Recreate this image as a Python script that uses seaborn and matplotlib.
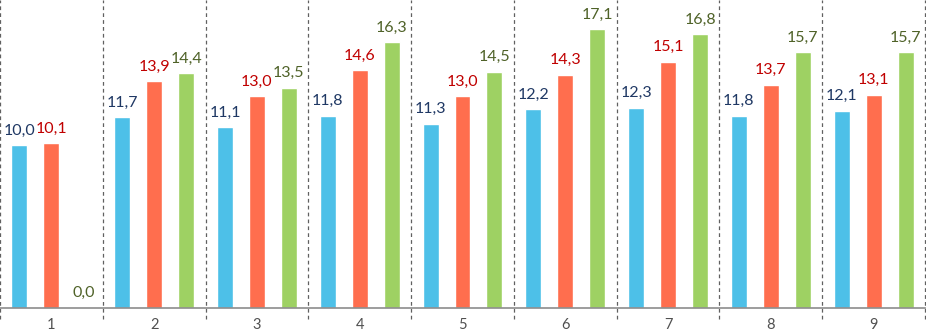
import matplotlib
matplotlib.use("Agg")
import matplotlib.pyplot as plt
import seaborn as sns
import pandas as pd
import numpy as np

categories = ["1", "2", "3", "4", "5", "6", "7", "8", "9"]
series_names = ["A", "B", "C"]
blue_vals = [10.0, 11.7, 11.1, 11.8, 11.3, 12.2, 12.3, 11.8, 12.1]
orange_vals = [10.1, 13.9, 13.0, 14.6, 13.0, 14.3, 15.1, 13.7, 13.1]
green_vals = [0.0, 14.4, 13.5, 16.3, 14.5, 17.1, 16.8, 15.7, 15.7]

bar_colors = ["#4DC0E8", "#FF6E4E", "#9ED163"]
label_colors = ["#1F3864", "#C00000", "#4F6228"]

df = pd.DataFrame({
    "cat": categories * 3,
    "series": [series_names[0]] * 9 + [series_names[1]] * 9 + [series_names[2]] * 9,
    "value": blue_vals + orange_vals + green_vals,
})

sns.set_theme(style="white")
plt.rcParams["font.family"] = ["Lato", "DejaVu Sans"]

fig = plt.figure(figsize=(9.26, 3.34), dpi=100)
ax = fig.add_axes([0.0, 26 / 334, 925 / 926, 308 / 334])

sns.barplot(data=df, x="cat", y="value", hue="series", order=categories,
            hue_order=series_names, palette=bar_colors, width=0.933, gap=0.5,
            dodge=True, legend=False, ax=ax, saturation=1, errorbar=None)

ax.set_xlim(-0.5, 8.5)
ax.set_ylim(0, 18.9)

# value labels
for container, lc in zip(ax.containers, label_colors):
    for bar in container:
        h = bar.get_height()
        ax.annotate(f"{h:.1f}".replace(".", ","),
                    (bar.get_x() + bar.get_width() / 2, h),
                    xytext=(0, 5.5), textcoords="offset points",
                    ha="center", va="bottom", fontsize=11.5, color=lc)

# dashed separators
for xs in np.arange(-0.5, 9.0, 1.0):
    ax.plot([xs, xs], [-0.035, 1], transform=ax.get_xaxis_transform(),
            color="#606060", lw=0.9, ls=(0, (3, 2.5)), clip_on=False)

for s in ["top", "left", "right"]:
    ax.spines[s].set_visible(False)
ax.spines["bottom"].set_color("#8C8C8C")
ax.spines["bottom"].set_linewidth(1.2)
ax.set_yticks([])
ax.set_xlabel("")
ax.set_ylabel("")
ax.tick_params(axis="x", length=0, pad=7, labelsize=10.5, labelcolor="#505050")

fig.savefig("out.png", dpi=100)
